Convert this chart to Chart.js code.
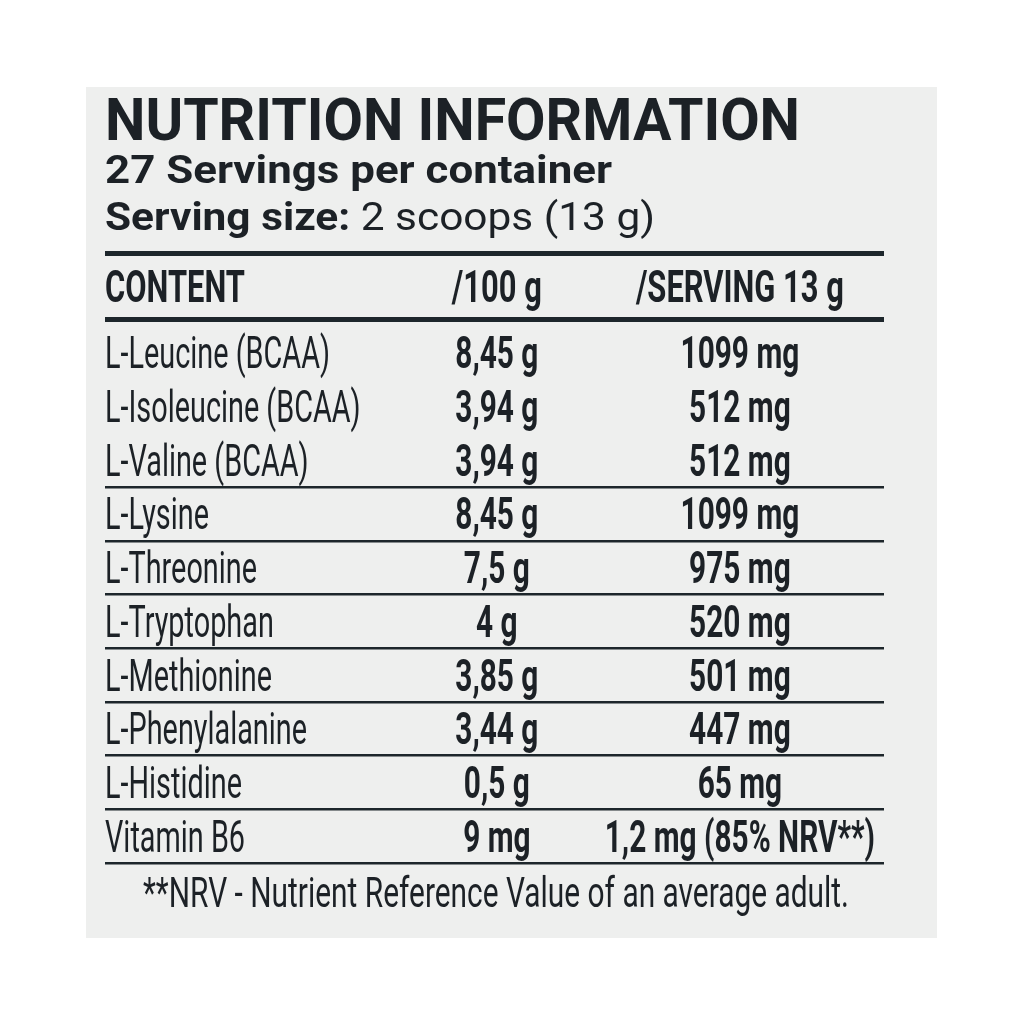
<!DOCTYPE html>
<html>
<head>
<meta charset="utf-8">
<script src="https://cdn.jsdelivr.net/npm/chart.js@4.4.1/dist/chart.umd.min.js"></script>
<style>
  html, body { margin: 0; padding: 0; background: #ffffff; }
  #wrap { width: 1024px; height: 1024px; }
</style>
</head>
<body>
<div id="wrap"><canvas id="c" width="1024" height="1024"></canvas></div>
<script>
// ---------- DATA ----------
const titleText = 'NUTRITION INFORMATION';
const servingsText = '27 Servings per container';
const servingSizeLabel = 'Serving size:';
const servingSizeValue = ' 2 scoops (13 g)';
const headerLabels = ['CONTENT', '/100 g', '/SERVING 13 g'];
const categories = [
  'L-Leucine (BCAA)', 'L-Isoleucine (BCAA)', 'L-Valine (BCAA)', 'L-Lysine',
  'L-Threonine', 'L-Tryptophan', 'L-Methionine', 'L-Phenylalanine',
  'L-Histidine', 'Vitamin B6'
];
const per100g = ['8,45 g', '3,94 g', '3,94 g', '8,45 g', '7,5 g', '4 g', '3,85 g', '3,44 g', '0,5 g', '9 mg'];
const perServing = ['1099 mg', '512 mg', '512 mg', '1099 mg', '975 mg', '520 mg', '501 mg', '447 mg', '65 mg', '1,2 mg (85% NRV**)'];
const rowGroups = [0, 0, 0, 1, 2, 3, 4, 5, 6, 7];
const footnote = '**NRV - Nutrient Reference Value of an average adult.';

// ---------- STYLE / LAYOUT ----------
const INK = '#1c2126';
const LINE = '#1d262b';
const PANEL = '#eeefee';
const COLS = [0, 0.503, 0.815];          // column anchors on the x scale (0..1)
const HEADER_TOP = -1.36, HEADER_BOTTOM = -0.13;

// row separators: header lines + group boundaries
const boundaries = [HEADER_TOP, HEADER_BOTTOM];
for (let i = 1; i <= categories.length; i++) {
  if (i === categories.length || rowGroups[i] !== rowGroups[i - 1]) boundaries.push(i);
}

function drawCondensed(ctx, text, x, y, font, sx, align) {
  ctx.save();
  ctx.font = font;
  ctx.translate(x, y);
  ctx.scale(sx, 1);
  ctx.textAlign = align || 'left';
  ctx.textBaseline = 'alphabetic';
  ctx.fillStyle = INK;
  ctx.fillText(text, 0, 0);
  ctx.restore();
}
function measure(ctx, font, text) {
  ctx.save(); ctx.font = font;
  const w = ctx.measureText(text).width;
  ctx.restore();
  return w;
}
function fitScale(ctx, font, text, width) {
  return width / measure(ctx, font, text);
}

const F_TITLE = '700 59px Roboto';
const F_SUB = '700 38px Roboto';
const F_SUB_REG = '400 38px Roboto';
const F_NAME = '400 44px Roboto';
const F_VAL = '700 44px Roboto';
const F_HEAD = '700 44px Roboto';
const F_FOOT = '400 42px Roboto';

const labelPlugin = {
  id: 'nutritionLabel',
  beforeDraw(chart) {
    const ctx = chart.ctx;
    ctx.save();
    ctx.fillStyle = '#ffffff';
    ctx.fillRect(0, 0, chart.width, chart.height);
    ctx.fillStyle = PANEL;
    ctx.fillRect(86, 87, 851, 851);
    ctx.restore();
  },
  afterDraw(chart) {
    const ctx = chart.ctx;
    const xs = chart.scales.x, ys = chart.scales.y;
    const left = xs.getPixelForValue(0);

    // Title block
    drawCondensed(ctx, titleText, left, 140, F_TITLE, fitScale(ctx, F_TITLE, titleText, 695));
    drawCondensed(ctx, servingsText, left, 183, F_SUB, fitScale(ctx, F_SUB, servingsText, 507));
    const wb = measure(ctx, F_SUB, servingSizeLabel);
    const wr = measure(ctx, F_SUB_REG, servingSizeValue);
    const s3 = 550 / (wb + wr);
    drawCondensed(ctx, servingSizeLabel, left, 230, F_SUB, s3);
    drawCondensed(ctx, servingSizeValue, left + wb * s3, 230, F_SUB_REG, s3);

    // Header row
    const sHead = fitScale(ctx, F_HEAD, headerLabels[2], 208);
    const hy = ys.getPixelForValue((HEADER_TOP + HEADER_BOTTOM) / 2) + 16;
    headerLabels.forEach((t, i) => {
      drawCondensed(ctx, t, xs.getPixelForValue(COLS[i]), hy, F_HEAD, sHead, i === 0 ? 'left' : 'center');
    });

    // Cells
    const sName = fitScale(ctx, F_NAME, 'L-Leucine (BCAA)', 225);
    const sVal = (106 + 283) / (measure(ctx, F_VAL, '1099 mg') + measure(ctx, F_VAL, '1,2 mg (85% NRV**)'));
    chart.data.datasets.forEach((ds, d) => {
      const meta = chart.getDatasetMeta(d);
      meta.data.forEach((pt, i) => {
        const txt = ds.cellText[i];
        if (d === 0) drawCondensed(ctx, txt, pt.x, pt.y + 15.5, F_NAME, sName, 'left');
        else drawCondensed(ctx, txt, pt.x, pt.y + 15.5, F_VAL, sVal, 'center');
      });
    });

    // Footnote
    drawCondensed(ctx, footnote, 496, 907, F_FOOT, fitScale(ctx, F_FOOT, footnote, 706), 'center');
  }
};

const columnData = [categories, per100g, perServing];
const datasets = columnData.map((col, c) => ({
  label: headerLabels[c],
  cellText: col,
  data: col.map((_, i) => ({ x: COLS[c], y: i + 0.5 })),
  pointRadius: 0,
  pointHoverRadius: 0,
  showLine: false
}));

new Chart(document.getElementById('c'), {
  type: 'scatter',
  data: { datasets },
  options: {
    responsive: false,
    animation: false,
    devicePixelRatio: 1,
    events: [],
    layout: { padding: { left: 105, right: 140, top: 253, bottom: 161 } },
    plugins: { legend: { display: false }, tooltip: { enabled: false }, title: { display: false } },
    scales: {
      x: { type: 'linear', min: 0, max: 1, display: false },
      y: {
        type: 'linear',
        reverse: true,
        min: HEADER_TOP,
        max: categories.length,
        display: true,
        afterBuildTicks: (axis) => { axis.ticks = boundaries.map(v => ({ value: v })); },
        ticks: { display: false },
        border: { display: false },
        grid: {
          drawTicks: false,
          color: LINE,
          lineWidth: (ctx) => (ctx.tick && ctx.tick.value < 0 ? 5 : 2.5)
        }
      }
    }
  },
  plugins: [labelPlugin]
});
</script>
</body>
</html>
